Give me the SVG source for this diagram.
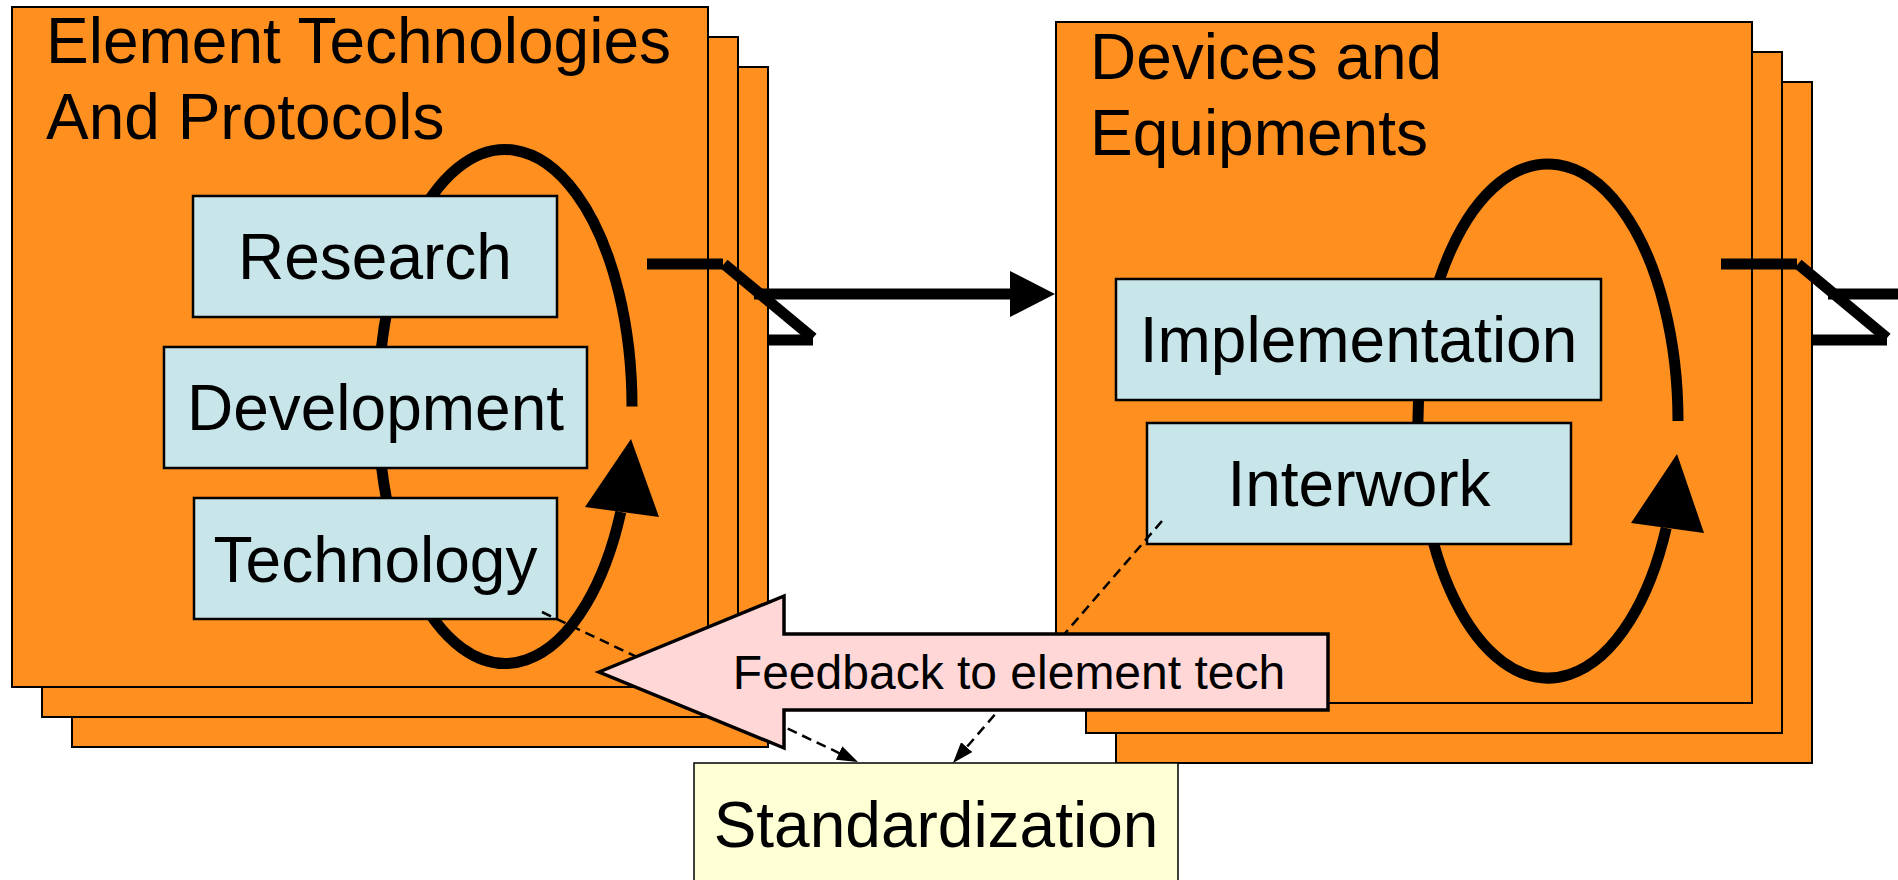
<svg xmlns="http://www.w3.org/2000/svg" width="1898" height="880" viewBox="0 0 1898 880">
<style>
.stack{fill:#FF9020;stroke:#000;stroke-width:2}
.box{fill:#C8E6EA;stroke:#000;stroke-width:2.5}
.t{font-family:"Liberation Sans",Arial,sans-serif;font-size:64px;fill:#000}
.c{text-anchor:middle}
.thick{fill:none;stroke:#000;stroke-width:11}
.dash{fill:none;stroke:#000;stroke-width:2.5;stroke-dasharray:10 6}
.head{fill:#000}
</style>
<defs>
<marker id="ah" viewBox="0 0 21 15" refX="21" refY="7.5" markerWidth="21" markerHeight="15" markerUnits="userSpaceOnUse" orient="auto">
<path d="M0,0 L21,7.5 L0,15 z" fill="#000"/>
</marker>
</defs>
<rect width="1898" height="880" fill="#fff"/>

<g id="left-stack">
<rect class="stack" x="72" y="67" width="696" height="680"/>
<rect class="stack" x="42" y="37" width="696" height="680"/>
<rect class="stack" x="12" y="7" width="696" height="680"/>
<text class="t" x="46" y="63">Element Technologies</text>
<text class="t" x="46" y="139">And Protocols</text>
<path class="thick" d="M632 406.5 A127 257 0 1 0 620.8 512"/>
<polygon class="head" points="631,439 585,507 659,517"/>
</g>

<g id="right-stack">
<rect class="stack" x="1116" y="82" width="696" height="681"/>
<rect class="stack" x="1086" y="52" width="696" height="681"/>
<rect class="stack" x="1056" y="22" width="696" height="681"/>
<text class="t" x="1090" y="79">Devices and</text>
<text class="t" x="1090" y="155">Equipments</text>
<path class="thick" d="M1678 421 A130 257 0 1 0 1666.2 528"/>
<polygon class="head" points="1677,454 1631,523 1704,533"/>
</g>

<g id="research">
<rect class="box" x="193" y="196" width="364" height="121"/>
<text class="t c" x="375" y="279">Research</text>
</g>
<g id="development">
<rect class="box" x="164" y="347" width="423" height="121"/>
<text class="t c" x="375.5" y="430">Development</text>
</g>
<g id="technology">
<rect class="box" x="194" y="498" width="363" height="121"/>
<text class="t c" x="375.5" y="582">Technology</text>
</g>
<g id="implementation">
<rect class="box" x="1116" y="279" width="485" height="121"/>
<text class="t c" x="1358.5" y="362">Implementation</text>
</g>
<g id="interwork">
<rect class="box" x="1147" y="423" width="424" height="121"/>
<text class="t c" x="1359" y="506">Interwork</text>
</g>

<g id="connectors">
<path class="thick" d="M647 264 H723"/>
<path class="thick" d="M724 264 L813 338"/>
<path class="thick" d="M768 340 H813"/>
<path class="thick" d="M754 294 H1012"/>
<polygon class="head" points="1010,271 1055,294 1010,317"/>
<path class="thick" d="M1721 264 H1797"/>
<path class="thick" d="M1798 264 L1887 338"/>
<path class="thick" d="M1812 340 H1887"/>
<path class="thick" d="M1828 294 H1898"/>
<path class="dash" d="M542 612 L858 762" marker-end="url(#ah)"/>
<path class="dash" d="M1162 521 L953 763" marker-end="url(#ah)"/>
</g>

<g id="feedback">
<polygon points="599,672 784,596 784,634 1328,634 1328,710 784,710 784,748" fill="#FFD7D7" stroke="#000" stroke-width="3.5" stroke-linejoin="miter"/>
<text class="c" x="1009" y="689" font-family="Liberation Sans, Arial, sans-serif" font-size="48">Feedback to element tech</text>
</g>

<g id="standardization">
<rect x="694" y="763" width="484" height="130" fill="#FFFFD6" stroke="#000" stroke-width="1.5"/>
<text class="t c" x="936" y="847">Standardization</text>
</g>
</svg>
